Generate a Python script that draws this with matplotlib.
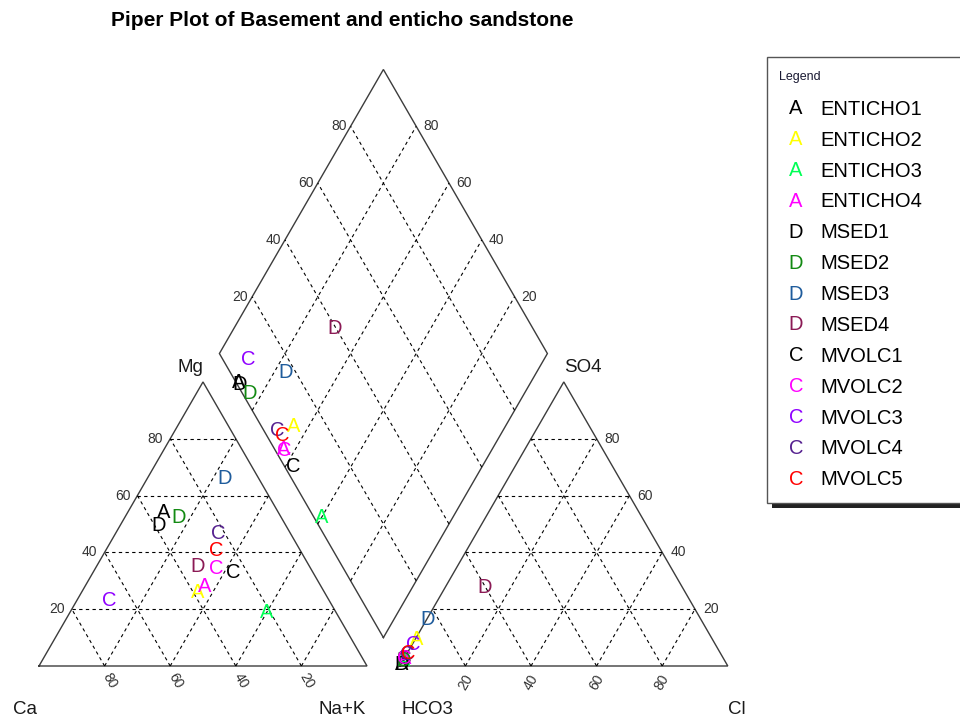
import matplotlib
matplotlib.use('Agg')
import matplotlib.pyplot as plt
import numpy as np
from matplotlib.patches import Rectangle

plt.rcParams['font.family'] = ['Liberation Sans', 'DejaVu Sans']

# ---------------- data ----------------
samples = ['ENTICHO1', 'ENTICHO2', 'ENTICHO3', 'ENTICHO4',
           'MSED1', 'MSED2', 'MSED3', 'MSED4',
           'MVOLC1', 'MVOLC2', 'MVOLC3', 'MVOLC4', 'MVOLC5']
letters = ['A', 'A', 'A', 'A', 'D', 'D', 'D', 'D', 'C', 'C', 'C', 'C', 'C']
colors = ['#000000', '#FFFF00', '#00FF55', '#FF00FF',
          '#000000', '#138A13', '#1F5C9C', '#8B1A55',
          '#000000', '#FF00FF', '#8F00FF', '#55208F', '#FF0000']
# cations (% meq)
ca = [34.5, 38.5, 20.8, 35.4, 38.5, 31.1, 10.3, 33.9, 24.1, 28.5, 66.8, 21.7, 25.4]
mg = [54.7, 26.5, 19.5, 28.5, 50.0, 52.8, 66.4, 35.6, 33.6, 35.0, 23.5, 47.3, 41.2]
nak = [10.8, 35.0, 59.7, 36.1, 11.5, 16.1, 23.3, 30.5, 42.3, 36.5, 9.7, 31.0, 33.4]
# anions (% meq)
hco3 = [99.0, 90.0, 97.5, 97.0, 99.0, 97.5, 83.0, 60.0, 97.0, 97.0, 92.0, 95.5, 95.0]
so4 = [1.0, 10.0, 2.5, 3.0, 1.0, 2.5, 17.0, 28.0, 3.0, 3.0, 8.0, 4.5, 5.0]
cl = [0.0, 0.0, 0.0, 0.0, 0.0, 0.0, 0.0, 12.0, 0.0, 0.0, 0.0, 0.0, 0.0]
grid_vals = [20, 40, 60, 80]
title = 'Piper Plot of Basement and enticho sandstone'

# ---------------- geometry ----------------
W, Hpx = 960, 720
S = 328.0          # pixels per triangle side
X0, Y0 = 39.0, 666.0
H = np.sqrt(3) / 2
G = 0.1            # gap between triangles
OFF = 1 + G        # x offset of anion triangle
B = np.array([1 + G / 2, G * H])
d1 = np.array([-0.5, H])
d2 = np.array([0.5, H])

fig = plt.figure(figsize=(W / 100, Hpx / 100), dpi=100)
ax = fig.add_axes([0, 0, 1, 1])
ax.set_xlim(-X0 / S, (W - X0) / S)
ax.set_ylim(-(Hpx - Y0) / S, Y0 / S)
ax.axis('off')

ov = fig.add_axes([0, 0, 1, 1], zorder=5)
ov.set_xlim(0, W)
ov.set_ylim(Hpx, 0)
ov.axis('off')
ov.patch.set_alpha(0)

edge_kw = dict(color='#3c3c3c', lw=1.0, solid_joinstyle='miter')
grid_kw = dict(color='black', lw=0.8, linestyle=(0, (3, 3)))
tick_col = '#333333'
tick_fs = 10

def line(p, q, **kw):
    ax.plot([p[0], q[0]], [p[1], q[1]], **kw)

# triangles
for x0 in (0.0, OFF):
    pts = np.array([[x0, 0], [x0 + 1, 0], [x0 + 0.5, H], [x0, 0]])
    ax.plot(pts[:, 0], pts[:, 1], **edge_kw)
    for v in grid_vals:
        k = v / 100
        line((x0 + 0.5 * k, k * H), (x0 + 1 - 0.5 * k, k * H), **grid_kw)
        line((x0 + 1 - k, 0), (x0 + 0.5 * (1 - k), (1 - k) * H), **grid_kw)
        line((x0 + k, 0), (x0 + k + 0.5 * (1 - k), (1 - k) * H), **grid_kw)

# diamond
dpts = np.array([B, B + d1, B + d1 + d2, B + d2, B])
ax.plot(dpts[:, 0], dpts[:, 1], **edge_kw)
for v in grid_vals:
    k = v / 100
    line(B + k * d1, B + k * d1 + d2, **grid_kw)
    line(B + k * d2, B + k * d2 + d1, **grid_kw)

# tick labels
for v in grid_vals:
    k = v / 100
    # Mg on left edge of cation triangle
    ax.annotate(str(v), (0.5 * k, k * H), xytext=(-7, 0), textcoords='offset pixels',
                ha='right', va='center', fontsize=tick_fs, color=tick_col)
    # Ca along base
    ax.annotate(str(v), (1 - k, 0), xytext=(5.5, -15), textcoords='offset pixels',
                ha='center', va='center', rotation=-60, fontsize=tick_fs, color=tick_col)
    # SO4 on right edge of anion triangle
    ax.annotate(str(v), (OFF + 1 - 0.5 * k, k * H), xytext=(8, 0), textcoords='offset pixels',
                ha='left', va='center', fontsize=tick_fs, color=tick_col)
    # Cl along base
    ax.annotate(str(v), (OFF + k, 0), xytext=(0, -16), textcoords='offset pixels',
                ha='center', va='center', rotation=60, fontsize=tick_fs, color=tick_col)
    # diamond upper-left edge
    p = B + d1 + k * d2
    ax.annotate(str(v), p, xytext=(-4, 0), textcoords='offset pixels',
                ha='right', va='center', fontsize=tick_fs, color=tick_col)
    # diamond upper-right edge
    p = B + d2 + k * d1
    ax.annotate(str(v), p, xytext=(7, 0), textcoords='offset pixels',
                ha='left', va='center', fontsize=tick_fs, color=tick_col)

# data points
mk_fs = 14.5
for i in range(len(samples)):
    tc = ca[i] + mg[i] + nak[i]
    ta = hco3[i] + so4[i] + cl[i]
    m, n = mg[i] / tc, nak[i] / tc
    s, c_, a = so4[i] / ta, cl[i] / ta, hco3[i] / ta
    pc = (n + 0.5 * m, m * H)
    pa = (OFF + c_ + 0.5 * s, s * H)
    pd = B + (1 - n) * d1 + (1 - a) * d2
    for p in (pc, pa, pd):
        ax.annotate(letters[i], p, xytext=(0, -7), textcoords='offset pixels',
                    ha='center', va='baseline', fontsize=mk_fs, color=colors[i])

# corner labels
lab_fs = 13.5
for txt, x, y in [('Mg', 190, 368), ('SO4', 583, 367), ('Ca', 25, 710),
                  ('Na+K', 342, 710), ('HCO3', 427, 710), ('Cl', 737, 710)]:
    ov.text(x, y, txt, ha='center', va='center', fontsize=lab_fs, color='#1a1a1a')

# title
ov.text(342, 20, title, ha='center', va='center', fontsize=15, fontweight='bold')

# legend
ov.add_patch(Rectangle((772, 62), 200, 446, facecolor='#222222', edgecolor='none'))
ov.add_patch(Rectangle((767, 57), 200, 446, facecolor='white', edgecolor='#555555', lw=1))
ov.text(779, 77, 'Legend', ha='left', va='center', fontsize=9, color='#1a1a33')
for i, name in enumerate(samples):
    y = 107.3 + i * 30.87
    ov.text(796, y + 7, letters[i], ha='center', va='baseline', fontsize=mk_fs, color=colors[i])
    ov.text(820, y + 7.5, name, ha='left', va='baseline', fontsize=14.5, color='black')

fig.savefig('out.png', dpi=100)
